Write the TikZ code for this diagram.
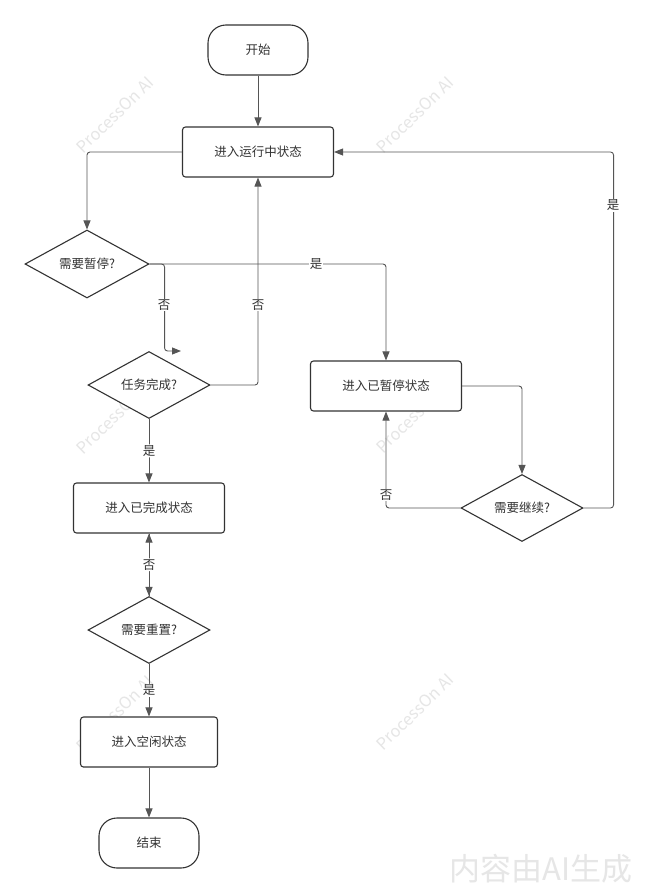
\documentclass[tikz,border=0pt]{standalone}
\usepackage{fontspec}
\setmainfont{Noto Sans CJK SC}
\usetikzlibrary{shapes.geometric,arrows.meta}
\definecolor{ln}{HTML}{333333}
\definecolor{cl}{HTML}{555555}
\definecolor{txt}{HTML}{333333}
\definecolor{wm}{HTML}{E6E6E6}
\tikzset{
  box/.style={draw=ln, line width=1.1pt, rounded corners=3pt, minimum width=151pt, minimum height=50pt, fill=white, text=txt},
  term/.style={draw=ln, line width=1.1pt, rounded corners=18pt, minimum width=100pt, minimum height=50pt, fill=white, text=txt},
  dec/.style={diamond, draw=ln, line width=1.1pt, aspect=1.8, minimum width=122pt, minimum height=67pt, inner sep=0pt, fill=white, text=txt},
  conn/.style={draw=cl, line width=0.9pt, -{Triangle[length=9pt,width=7pt]}, rounded corners=3pt},
  lbl/.style={fill=white, inner sep=1pt, text=txt},
  wmark/.style={text=wm, rotate=44, font=\fontsize{16.5}{18}\selectfont}
}
\begin{document}
\begin{tikzpicture}[x=1pt,y=-1pt, font=\fontsize{12.5}{14}\selectfont]
\useasboundingbox[fill=white] (0,0) rectangle (647,894);
% watermarks
\node[wmark] (w1) at (115,115) {ProcessOn AI};
\node[wmark] (w2) at (415,115) {ProcessOn AI};
\node[wmark] (w3) at (115,416) {ProcessOn AI};
\node[wmark] (w4) at (415,415) {ProcessOn AI};
\node[wmark] (w5) at (115,714) {ProcessOn AI};
\node[wmark] (w6) at (415,712) {ProcessOn AI};
\node[text=wm, font=\fontsize{31}{34}\selectfont] (wb) at (541,869) {内容由AI生成};
% nodes
\node[term] (start) at (258,50) {开始};
\node[box] (run) at (258,152) {进入运行中状态};
\node[dec, minimum width=124pt, minimum height=68pt] (pause) at (87,264) {需要暂停?};
\node[dec] (task) at (149,385) {任务完成?};
\node[box] (done) at (149,508) {进入已完成状态};
\node[dec] (reset) at (149,630) {需要重置?};
\node[box, minimum width=137pt] (idle) at (149,742) {进入空闲状态};
\node[term] (end) at (149,843) {结束};
\node[box] (paused) at (386,386) {进入已暂停状态};
\node[dec] (cont) at (522,508) {需要继续?};
\coordinate (nx) at (181,351);
% connectors
\draw[conn] (start) -- (run);
\draw[conn] (run.west) -| (pause.north);
\draw[conn] (pause.east) -| (paused.north);
\node[lbl] (l1) at (316,264) {是};
\draw[conn] (pause.east) -- ++(15,0) |- (nx);
\node[lbl] (l2) at (164,305) {否};
\draw[conn] (task.east) -| (run.south);
\node[lbl] (l3) at (258,305) {否};
\draw[conn] (task.south) -- (done.north) node[lbl, midway] (l4) {是};
\draw[conn] (done.south) -- (reset.north);
\draw[conn] (reset.north) -- (done.south) node[lbl, midway] (l5) {否};
\draw[conn] (reset.south) -- (idle.north) node[lbl, midway] (l6) {是};
\draw[conn] (idle) -- (end);
\draw[conn] (paused.east) -| (cont.north);
\draw[conn] (cont.west) -| (paused.south);
\node[lbl] (l7) at (386,495) {否};
\draw[conn] (cont.east) -- ++(30,0) |- (run.east);
\node[lbl] (l8) at (613,205) {是};
\end{tikzpicture}
\end{document}
